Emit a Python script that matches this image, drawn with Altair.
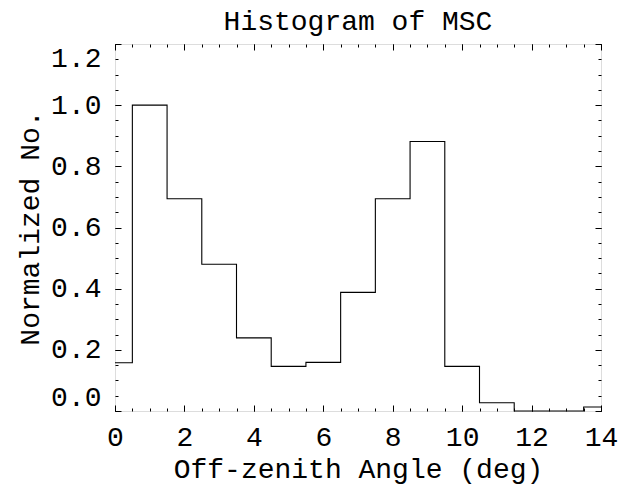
import altair as alt
import pandas as pd

angle = [0, 1, 2, 3, 4, 5, 6, 7, 8, 9, 10, 11, 12, 13, 14]
norm = [0.158, 1.0, 0.694, 0.480, 0.239, 0.146, 0.159, 0.388, 0.694, 0.881, 0.146, 0.027, 0.0, 0.0, 0.013]

x_major = [0, 2, 4, 6, 8, 10, 12, 14]
x_minor = [i * 0.5 for i in range(0, 29)]
y_major = [0.0, 0.2, 0.4, 0.6, 0.8, 1.0, 1.2]
y_minor = [round(i * 0.05, 2) for i in range(0, 25)]

df = pd.DataFrame({"angle": angle, "norm": norm})

FONT = "Liberation Mono"
FS = 28
MAJ = 6
MIN = 3

xscale = alt.Scale(domain=[0, 14], nice=False, zero=False)
yscale = alt.Scale(domain=[0, 1.2], nice=False, zero=False)

base = alt.Chart(df)

main = base.mark_line(interpolate="step", color="black", strokeWidth=1.1).encode(
    x=alt.X("angle:Q", scale=xscale,
            axis=alt.Axis(orient="bottom", values=x_major, format="d", title="Off-zenith Angle (deg)",
                          offset=-MAJ, tickSize=MAJ, domain=False, grid=False,
                          labelPadding=12, labelFont=FONT, labelFontSize=FS, labelColor="black",
                          titleFont=FONT, titleFontSize=FS, titleFontWeight="normal", titleColor="black",
                          titlePadding=4, tickColor="black", labelFlush=False)),
    y=alt.Y("norm:Q", scale=yscale,
            axis=alt.Axis(orient="left", values=y_major, format=".1f", title="Normalized No.",
                          offset=-MAJ, tickSize=MAJ, domain=False, grid=False,
                          labelPadding=14, labelFont=FONT, labelFontSize=FS, labelColor="black",
                          titleFont=FONT, titleFontSize=FS, titleFontWeight="normal", titleColor="black",
                          titlePadding=6, tickColor="black", labelFlush=True)),
)


def tick_layer(xorient, yorient, xvals, yvals, size):
    return base.mark_line(opacity=0).encode(
        x=alt.X("angle:Q", scale=xscale,
                axis=alt.Axis(orient=xorient, values=xvals, labels=False, title=None,
                              offset=-size, tickSize=size, domain=False, grid=False, tickColor="black")),
        y=alt.Y("norm:Q", scale=yscale,
                axis=alt.Axis(orient=yorient, values=yvals, labels=False, title=None,
                              offset=-size, tickSize=size, domain=False, grid=False, tickColor="black")),
    )


chart = alt.layer(
    main,
    tick_layer("bottom", "left", x_minor, y_minor, MIN),
    tick_layer("top", "right", x_major, y_major, MAJ),
    tick_layer("top", "right", x_minor, y_minor, MIN),
).resolve_axis(x="independent", y="independent").properties(
    width=486,
    height=367,
    autosize=alt.AutoSizeParams(type="none"),
    padding={"left": 107, "top": 36, "right": 21, "bottom": 74},
    title=alt.TitleParams("Histogram of MSC", font=FONT, fontSize=FS, fontWeight="normal",
                          color="black", anchor="middle", offset=8),
).configure_view(stroke="black", strokeWidth=1.1).configure(background="white")

chart.save("out.html", embed_options={"renderer": "svg", "actions": False})
